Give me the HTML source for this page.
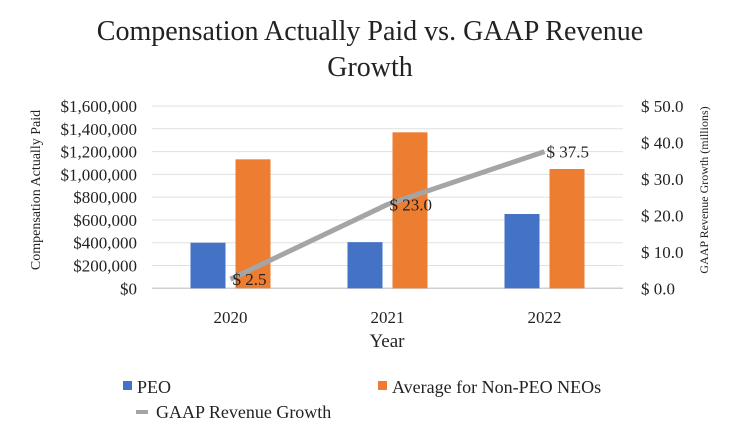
<!DOCTYPE html>
<html><head><meta charset="utf-8"><style>
body{margin:0;background:#fff}
svg text{font-family:"Liberation Serif",serif;fill:#222}
</style></head><body>
<svg width="740" height="437" viewBox="0 0 740 437">
<text x="370" y="40" font-size="28" text-anchor="middle">Compensation Actually Paid vs. GAAP Revenue</text>
<text x="370" y="76" font-size="28" text-anchor="middle">Growth</text>
<g id="grid"></g><g id="bars"></g><g id="line"></g><g id="labels"></g>
<text transform="translate(40,190) rotate(-90)" font-size="14" text-anchor="middle">Compensation Actually Paid</text>
<text transform="translate(708,190) rotate(-90)" font-size="12" text-anchor="middle">GAAP Revenue Growth (millions)</text>
<text x="387" y="347" font-size="19" text-anchor="middle">Year</text>
<rect x="123" y="381" width="9" height="9" fill="#4472c4"/>
<text x="137" y="393" font-size="18">PEO</text>
<rect x="378" y="381" width="9" height="9" fill="#ed7d31"/>
<text x="392" y="393" font-size="18">Average for Non-PEO NEOs</text>
<rect x="136" y="410" width="12" height="4" fill="#a5a5a5"/>
<text x="156" y="418" font-size="18">GAAP Revenue Growth</text>
</svg>
<script>
const categories=["2020","2021","2022"];
const peo=[400000,405000,652000];
const neo=[1132000,1369000,1047000];
const growth=[2.5,23.0,37.5];
const leftTicks=["$0","$200,000","$400,000","$600,000","$800,000","$1,000,000","$1,200,000","$1,400,000","$1,600,000"];
const rightTicks=["$ 0.0","$ 10.0","$ 20.0","$ 30.0","$ 40.0","$ 50.0"];
const NS="http://www.w3.org/2000/svg";
const x0=152,x1=623,y0=288.3,y1=106;
const yL=v=>y0-(v/1600000)*(y0-y1);
const yR=v=>y0-(v/50)*(y0-y1);
const bw=(x1-x0)/categories.length;
const cx=i=>x0+bw*(i+0.5);
function mk(t,a,p){const e=document.createElementNS(NS,t);for(const k in a)e.setAttribute(k,a[k]);p.appendChild(e);return e;}
const grid=document.getElementById('grid'),bars=document.getElementById('bars'),line=document.getElementById('line'),labels=document.getElementById('labels');
leftTicks.forEach((t,i)=>{const y=yL(i*200000);
const g=mk('line',{x1:x0,x2:x1,y1:y,y2:y,stroke:i==0?'#d0d0d0':'#e0e0e0','stroke-width':i==0?1.5:1},grid);


const tx=mk('text',{x:137,y:y+6,'font-size':17,'text-anchor':'end'},grid);tx.textContent=t;

});
rightTicks.forEach((t,i)=>{const y=yR(i*10);
const tx=mk('text',{x:641,y:y+6,'font-size':17},grid);tx.textContent=t;

});
categories.forEach((c,i)=>{
const b1=mk('rect',{x:cx(i)-40,y:yL(peo[i]),width:35,height:y0-yL(peo[i]),fill:'#4472c4'},bars);


const b2=mk('rect',{x:cx(i)+5,y:yL(neo[i]),width:35,height:y0-yL(neo[i]),fill:'#ed7d31'},bars);


const tx=mk('text',{x:cx(i),y:323,'font-size':17,'text-anchor':'middle'},labels);tx.textContent=c;

});
const pl=mk('polyline',{points:growth.map((v,i)=>cx(i)+','+yR(v)).join(' '),fill:'none',stroke:'#a5a5a5','stroke-width':5,'stroke-linejoin':'round'},line);


growth.forEach((v,i)=>{const tx=mk('text',{x:cx(i)+2,y:yR(v)+6,'font-size':17,fill:'#404040'},labels);tx.textContent='$ '+v.toFixed(1);

});
</script>
</body></html>
